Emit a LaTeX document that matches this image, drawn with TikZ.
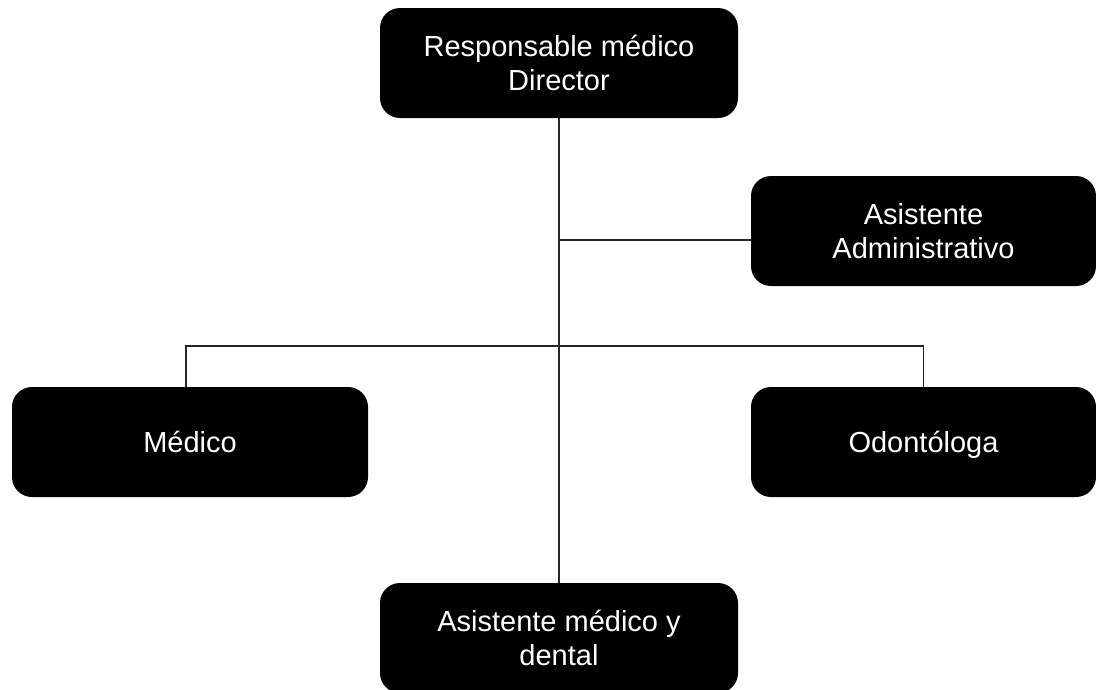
\documentclass[tikz,border=0pt]{standalone}
\usepackage{fontspec}
\setmainfont{Liberation Sans}
\begin{document}
\begin{tikzpicture}[x=1pt,y=-1pt]
\tikzset{
  box/.style={fill=black, text=white, rounded corners=20pt, font=\fontsize{29}{34}\selectfont,
    align=center, inner sep=0pt, minimum height=110pt},
  single/.style={text height=20pt, text depth=0pt},
  link/.style={draw=black!85, line width=1.1pt}
}
\useasboundingbox (0,0) rectangle (1096,689);
\node[box, minimum width=358pt] (top) at (559,63) {Responsable médico\\Director};
\node[box, minimum width=345pt] (admin) at (923.5,231) {Asistente\\Administrativo};
\node[box, single, minimum width=356pt] (medico) at (190,442) {Médico};
\node[box, single, minimum width=345pt] (odont) at (923.5,442) {Odontóloga};
\node[box, minimum width=358pt] (bottom) at (559,638) {Asistente médico y\\dental};
\coordinate (j1) at (559,240);
\coordinate (j2) at (559,346);
\coordinate (m1) at (186,387);
\draw[link] (top.south) -- (bottom.north);
\draw[link] (j1) -- (j1 -| admin.west);
\draw[link] (m1) |- (j2) -| (odont.north);
\end{tikzpicture}
\end{document}
